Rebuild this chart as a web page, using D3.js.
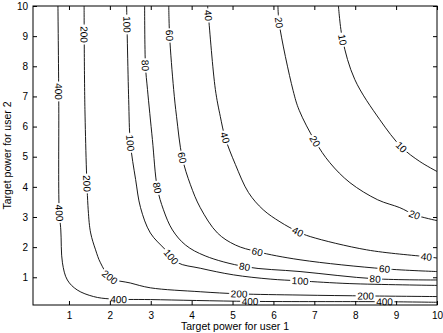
<!DOCTYPE html>
<html><head><meta charset="utf-8">
<script src="https://cdn.jsdelivr.net/npm/d3@7"></script>
<style>body{margin:0;background:#fff}svg{display:block}text{font-family:"Liberation Sans",Arial,Helvetica,sans-serif}</style>
</head><body>
<svg id="c" width="443" height="333"></svg>
<script>
// ---- data ----
const xTicks = [1,2,3,4,5,6,7,8,9,10];
const yTicks = [1,2,3,4,5,6,7,8,9,10];
const xLabel = "Target power for user 1";
const yLabel = "Target power for user 2";
const levels = [400,200,100,80,60,40,20,10];

const c400 = [[0.73,10],[0.75,6.9],[0.76,3.24],[0.80,2.57],[0.84,1.48],[0.96,0.91],[1.20,0.58],[1.60,0.36],[2.02,0.28],[2.99,0.26],[5.43,0.20],[8.60,0.19],[10,0.17]];
const c200 = [[1.37,10],[1.39,6.56],[1.47,3.24],[1.53,2.47],[1.65,1.91],[1.77,1.48],[2.02,0.98],[2.50,0.81],[2.99,0.65],[4.21,0.52],[5.16,0.45],[6.65,0.41],[8.36,0.38],[10,0.36]];
const c100 = [[2.41,10],[2.46,6.9],[2.50,5.47],[2.63,4.24],[2.75,3.31],[2.99,2.47],[3.36,1.91],[3.65,1.49],[4.21,1.30],[5.02,1.08],[5.92,0.94],[6.65,0.88],[7.87,0.79],[10,0.73]];
const c80 = [[2.85,10],[2.87,8.03],[2.92,7.23],[3.04,5.57],[3.16,3.97],[3.31,3.24],[3.53,2.57],[3.85,2.07],[4.33,1.71],[5.31,1.35],[6.65,1.19],[8.48,0.95],[10,0.91]];
const c60 = [[3.44,10],[3.46,9.03],[3.56,7.23],[3.63,6.34],[3.77,4.97],[3.97,4.07],[4.21,3.31],[4.63,2.47],[5.07,2.07],[5.60,1.85],[6.65,1.58],[8.72,1.28],[10,1.19]];
const c40 = [[4.39,10],[4.41,9.68],[4.58,7.23],[4.70,6.34],[4.82,5.63],[5.07,4.74],[5.39,3.81],[5.75,3.24],[6.16,2.84],[6.60,2.51],[6.90,2.35],[8.28,1.91],[9.75,1.68],[10,1.64]];
const c20 = [[6.11,10],[6.14,9.43],[6.48,7.2],[6.63,6.54],[7.02,5.51],[7.38,4.80],[7.87,4.14],[8.55,3.57],[9.09,3.31],[9.46,3.07],[10,2.88]];
const c10 = [[7.59,10],[7.69,8.89],[7.99,7.56],[8.60,6.23],[9.13,5.32],[9.58,4.84],[10,4.51]];
const contours = [c400,c200,c100,c80,c60,c40,c20,c10];

const lab400 = [[0.725,7.17],[0.725,3.13],[2.21,0.28],[5.43,0.19],[8.72,0.19]];
const lab200 = [[1.36,9.05],[1.40,4.11],[2.01,1.01],[5.16,0.44],[8.25,0.38]];
const lab100 = [[2.43,9.39],[2.50,5.46],[3.47,1.65],[6.65,0.88]];
const lab80 = [[2.86,8.03],[3.16,3.97],[5.30,1.34],[8.48,0.94]];
const lab60 = [[3.45,9.02],[3.77,4.97],[5.60,1.84],[8.72,1.28]];
const lab40 = [[4.40,9.68],[4.82,5.63],[6.60,2.51],[9.74,1.68]];
const lab20 = [[6.13,9.45],[7.01,5.50],[9.45,3.07]];
const lab10 = [[7.70,8.89],[9.13,5.33]];
const labels = [lab400,lab200,lab100,lab80,lab60,lab40,lab20,lab10];

// ---- layout ----
const L=33, R=437, T=6, B=305;
const x = d3.scaleLinear().domain([0.12,10]).range([L,R]);
const y = d3.scaleLinear().domain([0.08,10]).range([B,T]);
const svg = d3.select("#c");

svg.append("clipPath").attr("id","clp").append("rect")
  .attr("x",L).attr("y",T).attr("width",R-L).attr("height",B-T);

const line = d3.line().x(d=>x(d[0])).y(d=>y(d[1])).curve(d3.curveCatmullRom.alpha(0.5));
const gC = svg.append("g").attr("clip-path","url(#clp)");
const gL = svg.append("g");

contours.forEach((pts,i)=>{
  const p = gC.append("path").attr("d",line(pts)).attr("fill","none")
    .attr("stroke","#000").attr("stroke-width",0.9);
  const node = p.node(), len = node.getTotalLength();
  labels[i].forEach(lp=>{
    const px=x(lp[0]), py=y(lp[1]);
    let best=0, bd=1e9;
    for(let l=0;l<=len;l+=0.5){const q=node.getPointAtLength(l);const d=(q.x-px)**2+(q.y-py)**2;if(d<bd){bd=d;best=l;}}
    const a=node.getPointAtLength(Math.max(0,best-4)), b=node.getPointAtLength(Math.min(len,best+4)), c=node.getPointAtLength(best);
    let ang=Math.atan2(b.y-a.y,b.x-a.x)*180/Math.PI;
    if(ang>90) ang-=180; if(ang<=-90) ang+=180;
    const g=gL.append("g").attr("transform",`translate(${c.x},${c.y}) rotate(${ang})`);
    const txt=String(levels[i]);
    const w=txt.length*5.6+3;
    g.append("rect").attr("x",-w/2).attr("y",-3.5).attr("width",w).attr("height",7).attr("fill","#fff");
    g.append("text").attr("text-anchor","middle").attr("dy","0.36em").attr("font-size",10).text(txt);
  });
});

// ---- axes ----
const ax = (g,axis)=>{g.call(axis);g.select(".domain").remove();g.selectAll("line").attr("stroke","#000");g.selectAll("text").attr("font-size",10).attr("fill","#000").attr("font-family",'"Liberation Sans",Arial,sans-serif');};
svg.append("g").attr("transform",`translate(0,${B})`).call(g=>ax(g,d3.axisBottom(x).tickValues(xTicks).tickSize(-4).tickPadding(7).tickFormat(d3.format("d"))));
svg.append("g").attr("transform",`translate(0,${T})`).call(g=>ax(g,d3.axisTop(x).tickValues(xTicks).tickSize(-4).tickFormat("")));
svg.append("g").attr("transform",`translate(${L},0)`).call(g=>ax(g,d3.axisLeft(y).tickValues(yTicks).tickSize(-4).tickPadding(5).tickFormat(d3.format("d"))));
svg.append("g").attr("transform",`translate(${R},0)`).call(g=>ax(g,d3.axisRight(y).tickValues(yTicks).tickSize(-4).tickFormat("")));

svg.append("rect").attr("x",L).attr("y",T).attr("width",R-L).attr("height",B-T)
  .attr("fill","none").attr("stroke","#000").attr("stroke-width",1);

svg.append("text").attr("x",(L+R)/2).attr("y",330).attr("text-anchor","middle").attr("font-size",10.5).text(xLabel);
svg.append("text").attr("transform",`translate(11,${(T+B)/2}) rotate(-90)`).attr("text-anchor","middle").attr("font-size",10.5).text(yLabel);
</script>
</body></html>
